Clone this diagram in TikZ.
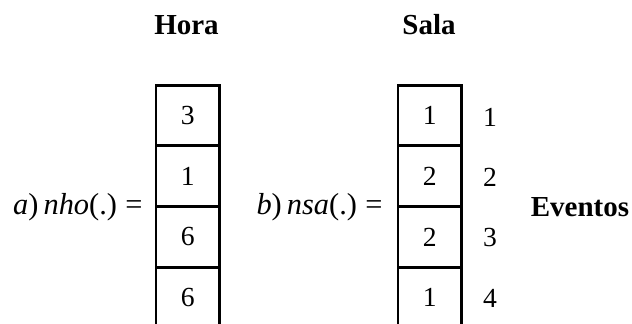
\documentclass[tikz,border=0pt]{standalone}
\usepackage{fontspec}
\setmainfont{Liberation Serif}
\begin{document}
\begin{tikzpicture}[x=0.5pt,y=-0.5pt,
  cell/.style={draw,line width=1.4pt,minimum width=31.75pt,minimum height=30.35pt,inner sep=0pt,outer sep=0pt,font=\fontsize{13.8}{16}\selectfont},
  opencell/.style={minimum width=31.75pt,minimum height=30.35pt,inner sep=0pt,outer sep=0pt,font=\fontsize{13.8}{16}\selectfont},
  lbl/.style={inner sep=0pt,font=\fontsize{13.8}{16}\selectfont},
  eq/.style={inner sep=0pt,font=\fontsize{15.2}{17}\selectfont},
  head/.style={inner sep=0pt,font=\fontsize{14.5}{17}\selectfont\bfseries},
  wall/.style={line width=1.4pt}]
\useasboundingbox (0,0) rectangle (632,324);
% left column
\node[cell] (h1) at (187.75,115.5) {3};
\node[cell] (h2) at (187.75,176.2) {1};
\node[cell] (h3) at (187.75,236.9) {6};
\node[opencell] (h4) at (187.75,297.6) {6};
\coordinate (h4bl) at (156,324);
\coordinate (h4br) at (219.5,324);
\draw[wall] (h4.north west) -- (h4bl);
\draw[wall] (h4.north east) -- (h4br);
% right column
\node[cell] (s1) at (429.75,115.5) {1};
\node[cell] (s2) at (429.75,176.2) {2};
\node[cell] (s3) at (429.75,236.9) {2};
\node[opencell] (s4) at (429.75,297.6) {1};
\coordinate (s4bl) at (398,324);
\coordinate (s4br) at (461.5,324);
\draw[wall] (s4.north west) -- (s4bl);
\draw[wall] (s4.north east) -- (s4br);
% labels
\node[eq,anchor=east] (la) at (143,207) {\textit{a\/})\,\textit{nho\/}(.)\;=};
\node[eq,anchor=east] (lb) at (383,207) {\textit{b\/})\,\textit{nsa\/}(.)\;=};
\node[lbl] (e1) at (490,117) {1};
\node[lbl] (e2) at (490,177) {2};
\node[lbl] (e3) at (490,238) {3};
\node[lbl] (e4) at (490,298) {4};
\node[head] (ev) at (580,207) {Eventos};
\node[head] (hora) at (186.5,25) {Hora};
\node[head] (sala) at (429,25) {Sala};
\end{tikzpicture}
\end{document}
